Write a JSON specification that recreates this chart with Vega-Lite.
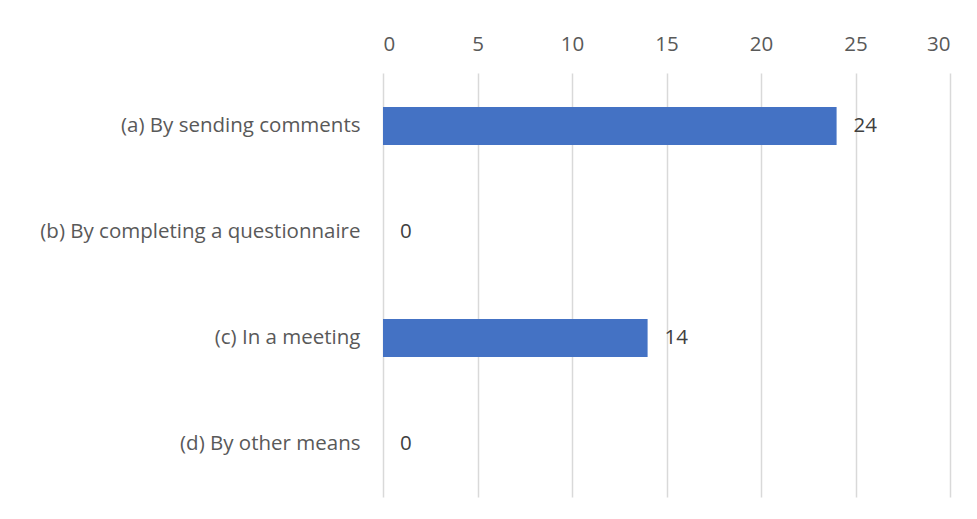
{
  "$schema": "https://vega.github.io/schema/vega-lite/v6.json",
  "width": 567,
  "height": 424,
  "autosize": {"type": "none"},
  "padding": {"left": 383, "top": 73, "right": 27, "bottom": 22},
  "background": "white",
  "config": {
    "view": {"stroke": null},
    "font": "Open Sans",
    "axis": {"labelFont": "Open Sans", "labelColor": "#595959", "labelFontSize": 20.5}
  },
  "data": {
    "values": [
      {"category": "(a) By sending comments", "value": 24},
      {"category": "(b) By completing a questionnaire", "value": 0},
      {"category": "(c) In a meeting", "value": 14},
      {"category": "(d) By other means", "value": 0}
    ]
  },
  "encoding": {
    "y": {
      "field": "category",
      "type": "nominal",
      "sort": null,
      "scale": {"paddingInner": 0, "paddingOuter": 0},
      "axis": {"title": null, "domain": false, "ticks": false, "grid": false, "labelPadding": 23, "labelLimit": 400}
    },
    "x": {
      "field": "value",
      "type": "quantitative",
      "scale": {"domain": [0, 30], "nice": false},
      "axis": {"orient": "top", "title": null, "domain": false, "ticks": false, "values": [0, 5, 10, 15, 20, 25, 30], "labelPadding": 19, "gridColor": "#d9d9d9", "gridWidth": 1.5}
    }
  },
  "layer": [
    {"mark": {"type": "bar", "color": "#4472C4", "size": 38}},
    {"mark": {"type": "text", "align": "left", "baseline": "middle", "dx": 17, "fontSize": 20.5, "color": "#404040", "font": "Open Sans"}, "encoding": {"text": {"field": "value", "type": "quantitative"}}}
  ]
}
